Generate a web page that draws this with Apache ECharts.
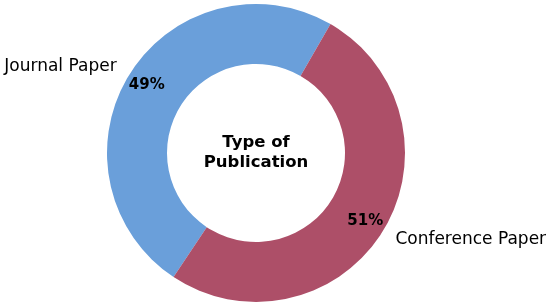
<!DOCTYPE html>
<html>
<head>
<meta charset="utf-8">
<script src="https://cdn.jsdelivr.net/npm/echarts@6/dist/echarts.min.js"></script>
<style>
  html, body { margin: 0; padding: 0; background: #fff; }
  #pie { width: 550px; height: 304px; }
</style>
</head>
<body>
<div id="pie"></div>
<script>
var categories = ['Journal Paper', 'Conference Paper'];
var shares = [49, 51];
var colors = ['#6A9FDA', '#AD4F68'];

var dom_pie = document.getElementById("pie");
var myChart_pie = echarts.init(dom_pie, null, {renderer: "canvas"});

var pieData = categories.map(function (name, i) {
    return {name: name, value: shares[i], itemStyle: {color: colors[i]}};
});
var ghostData = categories.map(function (name, i) {
    return {name: name, value: shares[i]};
});

var center = [256, 153];
var font = 'DejaVu Sans';

pieOption = {
    animation: false,
    graphic: [{
        type: 'text',
        x: 256,
        y: 153,
        style: {
            text: 'Type of\nPublication',
            textAlign: 'center',
            textVerticalAlign: 'middle',
            fontFamily: font,
            fontWeight: 'bold',
            fontSize: 16.5,
            lineHeight: 20,
            fill: '#000'
        }
    }],
    series: [
        {
            // ring + category names outside
            type: 'pie',
            center: center,
            radius: [89, 149],
            startAngle: 60,
            clockwise: false,
            silent: true,
            avoidLabelOverlap: false,
            data: pieData,
            itemStyle: {borderWidth: 0},
            label: {
                position: 'outside',
                formatter: '{b}',
                fontFamily: font,
                fontSize: 17,
                color: '#000',
                distanceToLabelLine: 0
            },
            labelLine: {show: false, length: 15, length2: 0}
        },
        {
            // percentage labels at 0.85 of radius
            type: 'pie',
            center: center,
            radius: [102, 149],
            startAngle: 60,
            clockwise: false,
            silent: true,
            avoidLabelOverlap: false,
            data: ghostData,
            itemStyle: {color: 'transparent', borderWidth: 0},
            label: {
                position: 'inside',
                formatter: '{c}%',
                fontFamily: font,
                fontWeight: 'bold',
                fontSize: 15,
                color: '#000'
            },
            labelLine: {show: false}
        }
    ]
};

if (pieOption && typeof pieOption === "object") {
    myChart_pie.setOption(pieOption, true);
}
</script>
</body>
</html>
